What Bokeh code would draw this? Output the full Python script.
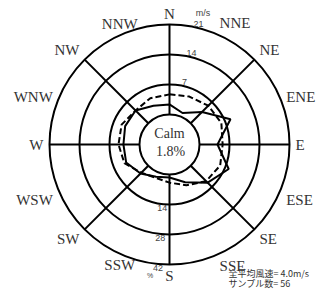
import numpy as np
from bokeh.plotting import figure
from bokeh.models import Range1d
from bokeh.embed import file_html
from bokeh.resources import INLINE
from bokeh.core.properties import value

# ---- data -------------------------------------------------------------
directions = ["N", "NNE", "NE", "ENE", "E", "ESE", "SE", "SSE",
              "S", "SSW", "SW", "WSW", "W", "WNW", "NW", "NNW"]
freq_pct = [4.7, 1.9, 7.5, 16.8, 8.4, 15.9, 11.2, 5.1,
            1.4, 2.3, 5.1, 7.9, 7.5, 8.4, 8.4, 5.6]        # solid line (%)
speed_ms = [4.7, 5.1, 5.8, 6.1, 5.4, 5.8, 5.1, 3.3,
            1.9, 1.4, 2.3, 4.4, 4.9, 5.1, 4.2, 4.7]        # dashed line (m/s)
ring_ms = [7, 14, 21]
ring_pct = [14, 28, 42]
calm_label = "Calm"
calm_value = "1.8%"
unit_ms = "m/s"
unit_pct = "%"
note_lines = ["全平均風速= 4.0m/s", "サンプル数= 56"]

# ---- scales (screen px) ----------------------------------------------
R0 = 30.0      # radius of calm circle
STEP = 30.0    # radius per ring


def r_pct(v):
    return R0 + np.asarray(v, dtype=float) / ring_pct[0] * STEP


def r_ms(v):
    return R0 + np.asarray(v, dtype=float) / ring_ms[0] * STEP


theta = np.deg2rad(np.arange(len(directions)) * 360.0 / len(directions))

W, H = 324, 290
CX, CY = 169, 144
p = figure(width=W, height=H,
           x_range=Range1d(-CX, W - CX), y_range=Range1d(CY - H, CY),
           output_backend="svg", toolbar_location=None,
           x_axis_location=None, y_axis_location=None, min_border=0)
p.grid.visible = False
p.outline_line_color = None
p.background_fill_color = "white"
p.border_fill_color = "white"

# rings
ring_r = [R0] + list(r_pct(ring_pct))
p.circle(x=[0] * len(ring_r), y=[0] * len(ring_r), radius=ring_r,
         fill_color=None, line_color="black", line_width=2)

# spokes every 45 degrees
sp = theta[::2]
p.segment(x0=R0 * np.sin(sp), y0=R0 * np.cos(sp),
          x1=ring_r[-1] * np.sin(sp), y1=ring_r[-1] * np.cos(sp),
          line_color="black", line_width=2)

# frequency (solid)
rf = r_pct(freq_pct)
xf = np.append(rf * np.sin(theta), rf[0] * np.sin(theta[0]))
yf = np.append(rf * np.cos(theta), rf[0] * np.cos(theta[0]))
p.line(xf, yf, line_color="black", line_width=2)

# mean speed (dashed)
rs = r_ms(speed_ms)
xs = np.append(rs * np.sin(theta), rs[0] * np.sin(theta[0]))
ys = np.append(rs * np.cos(theta), rs[0] * np.cos(theta[0]))
p.line(xs, ys, line_color="black", line_width=2, line_dash="6 3")

# direction labels
serif = value("Liberation Serif")
RL = ring_r[-1] + 3
for name, t in zip(directions, theta):
    s, c = np.sin(t), np.cos(t)
    r = RL
    if -0.5 < s < -0.1:
        align, base, r = "center", "middle", ring_r[-1] + 10
    else:
        align = "left" if s > 0.1 else ("right" if s < -0.1 else "center")
        base = "bottom" if c > 0.5 else ("top" if c < -0.3 else "middle")
    dx = 3 if align == "left" else (-3 if (align == "right") else 0)
    p.text(x=[r * s + dx], y=[r * c], text=[name], text_font=serif,
           text_font_size="15px", text_color="#333333",
           text_align=align, text_baseline=base)

# calm
p.text(x=[0], y=[11], text=[calm_label], text_font=serif, text_font_size="14px",
       text_color="#333333", text_align="center", text_baseline="middle")
p.text(x=[1], y=[-7], text=[calm_value], text_font=serif, text_font_size="14px",
       text_color="#333333", text_align="center", text_baseline="middle")

sans = value("Liberation Sans")
# m/s ring labels
a = np.deg2rad(13.5)
rr = r_ms(ring_ms) + 4
p.text(x=rr * np.sin(a), y=rr * np.cos(a), text=[str(v) for v in ring_ms],
       text_font=sans, text_font_size="9px", text_color="#444444",
       text_align="center", text_baseline="middle")
p.text(x=[rr[-1] * np.sin(a) + 4.5], y=[rr[-1] * np.cos(a) + 11], text=[unit_ms],
       text_font=sans, text_font_size="9px", text_color="#444444",
       text_align="center", text_baseline="middle")

# % ring labels
rp = r_pct(ring_pct)
p.text(x=-0.07 * rp + 2, y=-(rp + 3), text=[str(v) for v in ring_pct],
       text_font=sans, text_font_size="9px", text_color="#444444",
       text_align="right", text_baseline="middle")
p.text(x=[-0.07 * rp[-1] - 8], y=[-(rp[-1] + 11)], text=[unit_pct],
       text_font=sans, text_font_size="7px", text_color="#444444",
       text_align="right", text_baseline="middle")

# notes
cjk = value("Noto Sans CJK JP")
p.text(x=[59, 59], y=[-129, -139], text=note_lines, text_font=cjk,
       text_font_size="9px", text_color="#333333",
       text_align="left", text_baseline="middle")

open("out.html", "w").write(file_html(p, INLINE))
